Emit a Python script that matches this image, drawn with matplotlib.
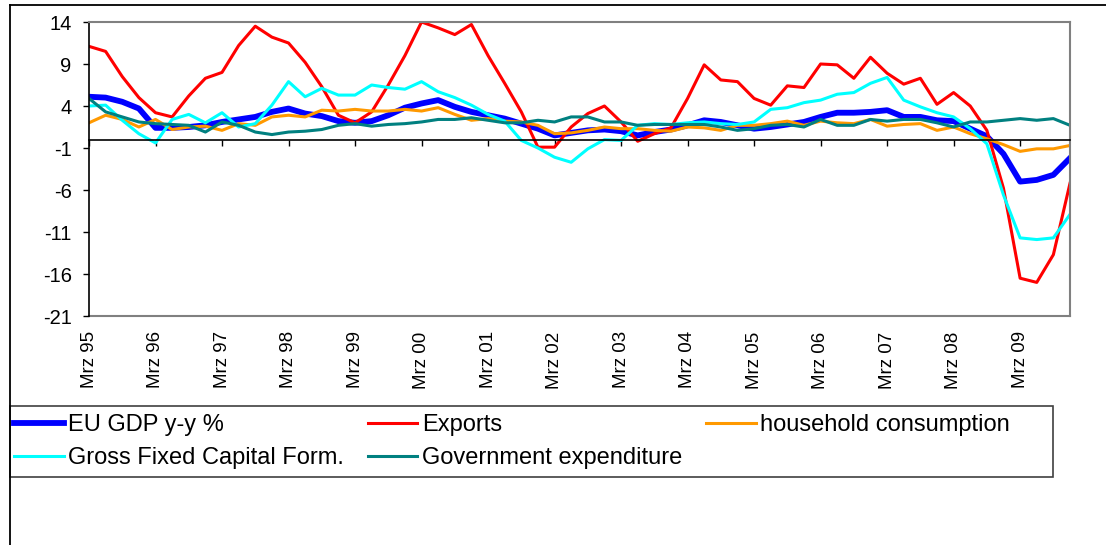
import numpy as np
import matplotlib
matplotlib.use("Agg")
import matplotlib.pyplot as plt
from matplotlib.lines import Line2D
from matplotlib.patches import Rectangle

plt.rcParams['font.family'] = ['Liberation Sans', 'DejaVu Sans']
plt.rcParams['axes.unicode_minus'] = False

# quarterly, Mar 1995 .. Dec 2009
year_labels = ["Mrz 95", "Mrz 96", "Mrz 97", "Mrz 98", "Mrz 99", "Mrz 00", "Mrz 01",
               "Mrz 02", "Mrz 03", "Mrz 04", "Mrz 05", "Mrz 06", "Mrz 07", "Mrz 08", "Mrz 09"]

gdp = [5.1, 5.0, 4.5, 3.7, 1.4, 1.4, 1.5, 1.7, 2.1, 2.4, 2.7, 3.3,
       3.7, 3.1, 2.8, 2.2, 2.0, 2.2, 2.9, 3.8, 4.3, 4.7, 3.9, 3.3,
       2.9, 2.5, 1.9, 1.3, 0.5, 0.8, 1.1, 1.2, 1.0, 0.5, 0.9, 1.2,
       1.7, 2.3, 2.1, 1.7, 1.3, 1.5, 1.8, 2.1, 2.7, 3.2, 3.2, 3.3,
       3.5, 2.7, 2.7, 2.3, 2.2, 1.3, 0.4, -1.7, -5.0, -4.8, -4.2, -2.2]

exports = [11.1, 10.5, 7.5, 5.0, 3.2, 2.7, 5.2, 7.3, 8.0, 11.2, 13.5, 12.2,
           11.5, 9.2, 6.3, 2.9, 2.0, 3.3, 6.5, 10.0, 14.0, 13.3, 12.5, 13.7,
           10.0, 6.7, 3.3, -0.9, -0.9, 1.5, 3.1, 4.0, 2.1, -0.2, 0.7, 1.4,
           4.9, 8.9, 7.1, 6.9, 4.9, 4.1, 6.4, 6.2, 9.0, 8.9, 7.3, 9.8,
           7.9, 6.6, 7.3, 4.2, 5.6, 4.0, 1.1, -5.8, -16.5, -17.0, -13.7, -5.2]

household = [2.0, 2.9, 2.4, 1.5, 2.4, 1.2, 1.5, 1.6, 1.1, 1.9, 1.7, 2.7,
             2.9, 2.7, 3.5, 3.4, 3.6, 3.4, 3.4, 3.6, 3.4, 3.8, 3.0, 2.3,
             2.5, 2.2, 2.1, 1.7, 0.7, 0.8, 1.1, 1.5, 1.3, 1.3, 1.1, 1.0,
             1.5, 1.4, 1.1, 1.7, 1.7, 1.9, 2.2, 1.7, 2.2, 2.0, 1.9, 2.4,
             1.6, 1.8, 1.9, 1.1, 1.5, 0.7, 0.1, -0.6, -1.4, -1.1, -1.1, -0.7]

gfcf = [4.0, 4.1, 2.3, 0.7, -0.4, 2.4, 3.0, 2.0, 3.2, 1.5, 1.9, 4.1,
        6.9, 5.1, 6.1, 5.3, 5.3, 6.5, 6.2, 6.0, 6.9, 5.7, 5.0, 4.1,
        3.0, 2.2, -0.1, -1.0, -2.1, -2.7, -1.1, 0.0, -0.1, 1.7, 1.9, 1.8,
        2.0, 2.1, 1.9, 1.8, 2.1, 3.6, 3.8, 4.4, 4.7, 5.4, 5.6, 6.7,
        7.4, 4.7, 3.9, 3.2, 2.7, 1.3, -0.5, -6.6, -11.7, -11.9, -11.7, -8.9]

government = [4.9, 3.3, 2.7, 2.1, 1.9, 1.8, 1.7, 0.9, 2.1, 1.7, 0.9, 0.6,
              0.9, 1.0, 1.2, 1.7, 1.9, 1.6, 1.8, 1.9, 2.1, 2.4, 2.4, 2.6,
              2.3, 2.0, 2.0, 2.3, 2.1, 2.7, 2.7, 2.1, 2.1, 1.7, 1.8, 1.8,
              1.8, 1.8, 1.5, 1.1, 1.3, 1.7, 1.8, 1.5, 2.4, 1.7, 1.7, 2.4,
              2.2, 2.4, 2.4, 2.0, 1.5, 2.1, 2.1, 2.3, 2.5, 2.3, 2.5, 1.7]

series_names = ["EU GDP y-y %", "Exports", "household consumption",
                "Gross Fixed Capital Form.", "Government expenditure"]

x = np.arange(len(gdp))

W, H = 1106, 545
fig = plt.figure(figsize=(W / 100, H / 100), dpi=100)
ax = fig.add_axes([89 / W, 1 - 316 / H, (1070 - 89) / W, (316 - 22) / H])

l1, = ax.plot(x, gdp, color='#0000FF', lw=4.2)
l2, = ax.plot(x, exports, color='#FF0000', lw=2.2)
l3, = ax.plot(x, household, color='#FF9900', lw=2.2)
l4, = ax.plot(x, gfcf, color='#00FFFF', lw=2.2)
l5, = ax.plot(x, government, color='#008080', lw=2.2)

ax.set_xlim(0, len(gdp) - 1)
ax.set_ylim(-21, 14)
ax.set_yticks([-21, -16, -11, -6, -1, 4, 9, 14])
ax.tick_params(axis='y', direction='out', length=4.5, width=1, pad=8,
               labelsize=14.5, colors='black')

# category axis crossing at 0 with year tick marks
ax.spines['bottom'].set_position(('data', 0))
ax.spines['bottom'].set_color('black')
ax.spines['bottom'].set_linewidth(1.2)
year_pos = np.arange(0, len(gdp), 4)
ax.set_xticks(year_pos)
ax.tick_params(axis='x', direction='out', length=4, width=1, labelbottom=False)

for s in ['top', 'right']:
    ax.spines[s].set_color('#808080')
    ax.spines[s].set_linewidth(1.5)
ax.spines['left'].set_color('black')
ax.spines['left'].set_linewidth(1.2)

sec = ax.secondary_xaxis(0)
sec.set_xticks(year_pos)
sec.set_xticklabels(year_labels, rotation=90, fontsize=13.5)
sec.tick_params(axis='x', length=0, pad=11)
sec.spines['bottom'].set_color('#808080')
sec.spines['bottom'].set_linewidth(1.5)

# outer chart border (top and left)
fig.add_artist(Line2D([10 / W, 1.0], [1 - 5 / H, 1 - 5 / H], color='black', lw=1.3))
fig.add_artist(Line2D([10 / W, 10 / W], [0, 1 - 5 / H], color='black', lw=1.3))

# legend box
fig.add_artist(Rectangle((10 / W, 1 - 477 / H), (1053 - 10) / W, (477 - 406) / H,
                         fill=False, edgecolor='#404040', lw=1.2))
order = [0, 3, 1, 4, 2]
handles = [l1, l2, l3, l4, l5]
leg = fig.legend([handles[k] for k in order], [series_names[k] for k in order],
                 ncol=3, frameon=False,
                 loc='upper left', bbox_to_anchor=(14 / W, 1 - 414 / H),
                 fontsize=17, handlelength=2.1, handletextpad=0.2,
                 columnspacing=1.0, labelspacing=0.48, borderaxespad=0,
                 borderpad=0)

fig.savefig('out.png', dpi=100)
